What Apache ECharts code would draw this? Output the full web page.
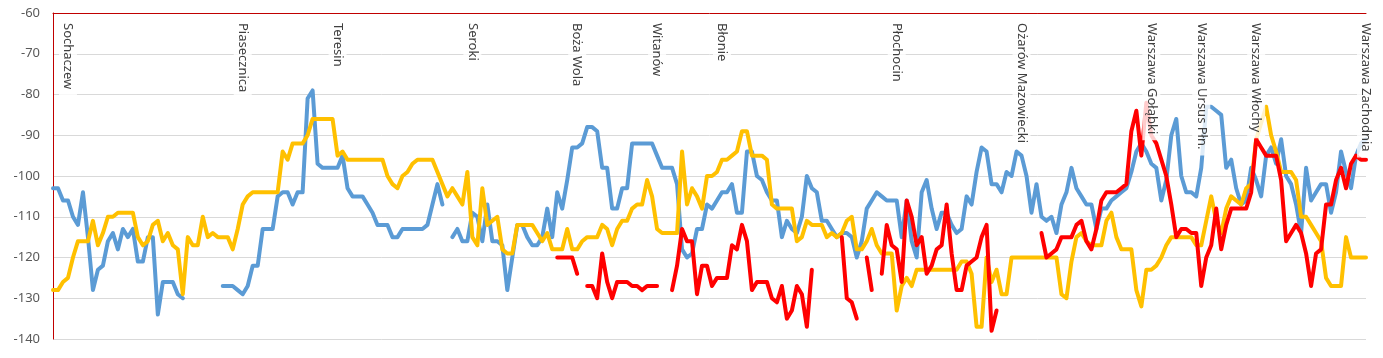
<!DOCTYPE html>
<html><head><meta charset="utf-8">
<script src="https://cdn.jsdelivr.net/npm/echarts@6/dist/echarts.min.js"></script>
<style>html,body{margin:0;padding:0;background:#fff}#c{width:1383px;height:358px}</style>
</head><body><div id="c"></div>
<script>
// sample positions along the route (category axis)
const samples = Array.from({length: 264}, (_, i) => i);

// station names and the sample index where each is marked
const stations = ['Sochaczew','Piasecznica','Teresin','Seroki','Boża Wola','Witanów','Błonie','Płochocin','Ożarów Mazowiecki','Warszawa Gołąbki','Warszawa Ursus Płn.','Warszawa Włochy','Warszawa Zachodnia'];
const stationIdx = [3, 38, 57, 84, 105, 121, 134, 169, 194, 220, 230, 241, 263];

// y axis ticks
const yMin = -140, yMax = -60, yStep = 10;

const blue = [
-103,-103,-106,-106,-110,-112,-104,-115,-128,-123,
-122,-116,-114,-118,-113,-115,-113,-121,-121,-115,
-115,-134,-126,-126,-126,-129,-130,null,null,null,
null,null,null,null,-127,-127,-127,-128,-129,-127,
-122,-122,-113,-113,-113,-105,-104,-104,-107,-104,
-104,-81,-79,-97,-98,-98,-98,-98,-95,-103,
-105,-105,-105,-107,-109,-112,-112,-112,-115,-115,
-113,-113,-113,-113,-113,-112,-107,-102,-107,null,
-115,-113,-116,-116,-109,-110,-116,-107,-116,-116,
-117,-128,-120,-112,-112,-115,-117,-117,-115,-108,
-115,-104,-108,-101,-93,-93,-92,-88,-88,-89,
-98,-98,-108,-108,-103,-103,-92,-92,-92,-92,
-92,-95,-98,-98,-98,-102,-118,-120,-119,-113,
-113,-107,-108,-106,-104,-104,-102,-109,-109,-94,
-94,-100,-101,-104,-106,-106,-115,-111,-113,-114,
-110,-100,-103,-104,-111,-111,-113,-115,-114,-114,
-115,-120,-116,-108,-106,-104,-105,-106,-106,-106,
-115,-106,-116,-120,-104,-101,-108,-113,-109,-109,
-112,-114,-113,-105,-107,-99,-93,-94,-102,-102,
-104,-99,-100,-94,-95,-100,-109,-102,-110,-111,
-110,-114,-107,-104,-98,-103,-105,-107,-107,-113,
-108,-108,-106,-105,-104,-103,-99,-94,-92,-94,
-97,-98,-106,-101,-90,-86,-100,-104,-104,-105,
-98,-83,-83,-84,-85,-98,-96,-103,-107,-106,
-98,-101,-105,-95,-93,-97,-91,-100,-102,-107,
-114,-98,-106,-104,-102,-102,-109,-104,-94,-99,
-103,-95,-92,-91
];

const yellow = [
-128,-128,-126,-125,-120,-116,-116,-116,-111,-117,
-114,-110,-110,-109,-109,-109,-109,-115,-117,-116,
-112,-111,-116,-114,-117,-118,-129,-115,-117,-117,
-110,-115,-114,-115,-115,-115,-118,-113,-107,-105,
-104,-104,-104,-104,-104,-104,-94,-96,-92,-92,
-92,-90,-86,-86,-86,-86,-86,-95,-94,-96,
-96,-96,-96,-96,-96,-96,-96,-100,-102,-103,
-100,-99,-97,-96,-96,-96,-96,-99,-102,-105,
-103,-105,-107,-99,-115,-117,-103,-112,-111,-110,
-118,-119,-119,-112,-112,-112,-112,-114,-116,-114,
-118,-118,-118,-113,-118,-118,-116,-115,-115,-115,
-112,-113,-117,-113,-111,-111,-108,-107,-107,-101,
-105,-113,-114,-114,-114,-114,-94,-107,-103,-105,
-108,-100,-100,-99,-96,-96,-95,-94,-89,-89,
-95,-95,-95,-96,-107,-108,-108,-108,-108,-116,
-115,-111,-112,-112,-112,-115,-114,-115,-114,-111,
-110,-118,-118,-116,-113,-117,-119,-119,-119,-133,
-127,-125,-127,-123,-123,-123,-123,-123,-123,-123,
-123,-123,-121,-121,-124,-137,-137,-120,-126,-123,
-129,-129,-120,-120,-120,-120,-120,-120,-120,-120,
-120,-120,-129,-130,-121,-115,-114,-116,-117,-117,
-117,-111,-109,-115,-118,-118,-118,-128,-132,-123,
-123,-122,-120,-117,-115,-115,-115,-115,-115,-117,
-117,-111,-105,-111,-114,-108,-105,-106,-107,-103,
-102,-91,-87,-83,-90,-94,-99,-99,-99,-101,
-110,-110,-112,-114,-116,-125,-127,-127,-127,-115,
-120,-120,-120,-120
];

const red = [
null,null,null,null,null,null,null,null,null,null,
null,null,null,null,null,null,null,null,null,null,
null,null,null,null,null,null,null,null,null,null,
null,null,null,null,null,null,null,null,null,null,
null,null,null,null,null,null,null,null,null,null,
null,null,null,null,null,null,null,null,null,null,
null,null,null,null,null,null,null,null,null,null,
null,null,null,null,null,null,null,null,null,null,
null,null,null,null,null,null,null,null,null,null,
null,null,null,null,null,null,null,null,null,null,
null,-120,-120,-120,-120,-124,null,-127,-127,-130,
-119,-126,-130,-126,-126,-126,-127,-127,-128,-127,
-127,-127,null,null,-128,-122,-113,-116,-116,-129,
-122,-122,-127,-125,-125,-125,-117,-118,-112,-116,
-128,-126,-126,-126,-130,-131,-127,-135,-133,-127,
-129,-137,-123,null,null,null,null,null,-115,-130,
-131,-135,null,-120,-128,null,-124,-112,-117,-118,
-126,-106,-110,-117,-115,-124,-122,-118,-117,-107,
-119,-128,-128,-122,-121,-120,-115,-112,-138,-133,
null,null,null,null,null,null,null,null,-114,-120,
-119,-118,-115,-115,-115,-112,-111,-116,-118,-113,
-106,-104,-104,-104,-103,-102,-89,-84,-95,-82,
-90,-92,-96,-100,-107,-115,-113,-113,-114,-114,
-127,-120,-117,-108,-118,-112,-108,-108,-108,-108,
-104,-91,-93,-95,-95,-95,-101,-116,-114,-112,
-114,-119,-127,-119,-118,-107,-107,-101,-98,-103,
-97,-95,-96,-96
];

function lineSeries(name, data, color) {
  return {
    name: name, type: 'line', data: data, showSymbol: false, symbol: 'none',
    connectNulls: false, animation: false,
    lineStyle: {color: color, width: 4, join: 'round', cap: 'round'},
    itemStyle: {color: color}
  };
}

const chart = echarts.init(document.getElementById('c'), null, {renderer: 'canvas'});
chart.setOption({
  animation: false,
  grid: {left: 53, right: 17, top: 13, bottom: 19},
  xAxis: {
    type: 'category', data: samples, position: 'top', boundaryGap: false,
    axisLine: {show: true, onZero: false, lineStyle: {color: '#C00000', width: 1}},
    axisTick: {show: false}, axisLabel: {show: false}, splitLine: {show: false}
  },
  yAxis: {
    type: 'value', min: yMin, max: yMax, interval: yStep,
    axisLine: {show: true, lineStyle: {color: '#C00000', width: 1}},
    axisTick: {show: false},
    axisLabel: {color: '#595959', fontSize: 13, fontFamily: 'Noto Sans', margin: 13},
    splitLine: {lineStyle: {color: '#D9D9D9', width: 1}}
  },
  series: [
    lineSeries('blue', blue, '#5B9BD5'),
    lineSeries('yellow', yellow, '#FFC000'),
    lineSeries('red', red, '#FF0000'),
    {
      type: 'custom', z: 10, animation: false, silent: true,
      data: stationIdx.map(ix => [ix, yMax]),
      renderItem: function (params, api) {
        const p = api.coord([api.value(0), api.value(1)]);
        return {
          type: 'text', x: p[0], y: p[1] + 4, rotation: -Math.PI / 2,
          style: {
            text: stations[params.dataIndex], fill: '#404040',
            font: '13px "Noto Sans"', lineHeight: 14, align: 'left', verticalAlign: 'middle',
            backgroundColor: 'rgba(255,255,255,0.8)', padding: [2, 6, 2, 6]
          }
        };
      }
    }
  ]
});
</script>
</body></html>
